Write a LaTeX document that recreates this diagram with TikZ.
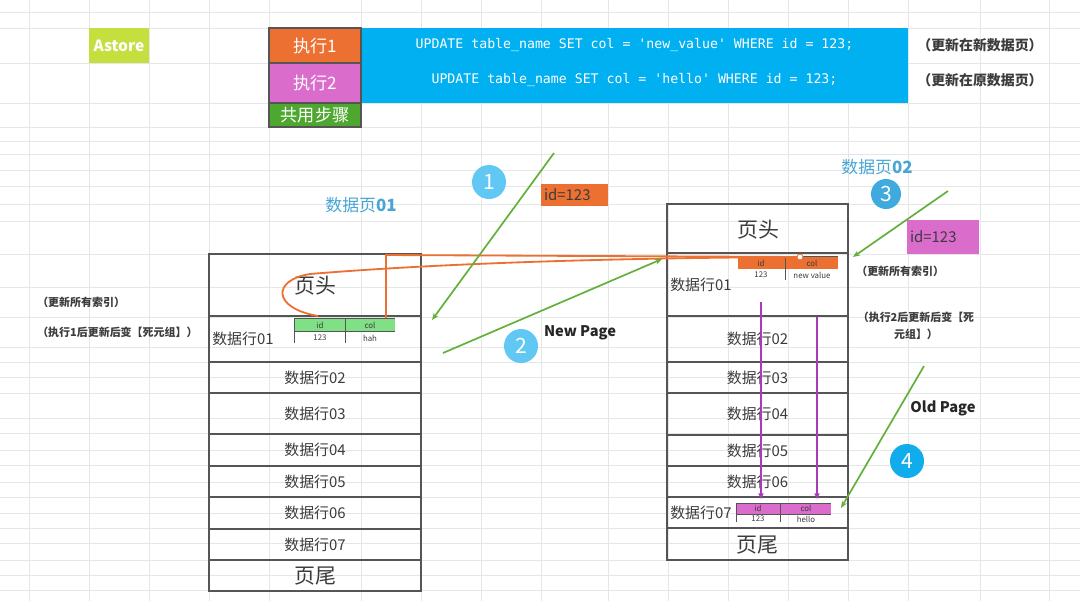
\documentclass[tikz,border=0pt]{standalone}
\usepackage{fontspec}
\setmainfont{Noto Sans CJK SC}
\setmonofont{DejaVu Sans Mono}
\usetikzlibrary{arrows.meta}

\definecolor{gridgray}{RGB}{230,230,230}
\definecolor{framegray}{RGB}{85,85,85}
\definecolor{textgray}{RGB}{60,60,60}
\definecolor{astorelime}{RGB}{196,223,62}
\definecolor{runorange}{RGB}{236,112,50}
\definecolor{runpink}{RGB}{218,108,204}
\definecolor{sharedgreen}{RGB}{78,167,46}
\definecolor{sqlblue}{RGB}{0,176,240}
\definecolor{arrowgreen}{RGB}{98,176,58}
\definecolor{pageblue}{RGB}{72,166,212}
\definecolor{rowpurple}{RGB}{168,60,184}
\definecolor{cellgreen}{RGB}{128,224,134}
\definecolor{stepone}{RGB}{96,200,242}
\definecolor{stepthree}{RGB}{62,170,222}
\definecolor{stepfour}{RGB}{16,172,236}

\tikzset{
  gridline/.style={gridgray, line width=0.7pt},
  frame/.style={draw=framegray, line width=0.9pt},
  rowtext/.style={font=\fontsize{10.6}{12}\selectfont, text=textgray, inner sep=0pt},
  headtext/.style={font=\fontsize{14.9}{16}\selectfont, text=textgray, inner sep=0pt},
  cmdcell/.style={draw=framegray, line width=0.8pt, minimum width=2.3cm, text=white,
    font=\fontsize{12.2}{14}\selectfont, inner sep=0pt},
  sqltext/.style={font=\ttfamily\fontsize{9.4}{11}\selectfont, text=white, inner sep=0pt},
  notetext/.style={font=\bfseries\fontsize{7.8}{12}\selectfont, text=textgray, inner sep=0pt},
  pagelabel/.style={font=\fontsize{12}{14}\selectfont, text=pageblue, inner sep=0pt},
  celltext/.style={font=\fontsize{5.6}{6}\selectfont, text=textgray, inner sep=0pt},
  stepcircle/.style={circle, minimum size=0.85cm, inner sep=0pt, text=white,
    font=\fontsize{15}{16}\selectfont},
  greenarrow/.style={arrowgreen, line width=1.2pt, -{Stealth[length=5pt,width=4pt]}},
  purplearrow/.style={rowpurple, line width=1.1pt, -{Triangle[length=4pt,width=3.5pt]}},
  orangeline/.style={runorange, line width=1.3pt},
  idtag/.style={font=\fontsize{10.6}{12}\selectfont, text=textgray, align=left, inner xsep=2pt}
}

\begin{document}
\begin{tikzpicture}[x=0.025cm, y=-0.025cm]
    \useasboundingbox (0,0) rectangle (1080,601);
    \fill[white] (0,0) rectangle (1080,601);

    % Spreadsheet grid
    \foreach \x in {29,89,149,209,269,361,421,481,541,608,668,728,788,848,908,980,1049}
        \draw[gridline] (\x,0) -- (\x,601);
    \foreach \y in {12,28,63,103,127,141,154,170,186,204,221,254,287,317,347,362,377,393,418,433,450,465,482,497,513,528,543,560,575,590}
        \draw[gridline] (0,\y) -- (1080,\y);

    % Command table
    \node[fill=astorelime, minimum width=1.5cm, minimum height=0.875cm, inner sep=0pt,
          text=white, font=\bfseries\fontsize{11}{12}\selectfont] (astore) at (119,45.5) {Astore};
    \node[fill=sqlblue, minimum width=13.675cm, minimum height=1.875cm, inner sep=0pt] (sqlbox) at (634.5,65.5) {};
    \node[cmdcell, fill=runorange, minimum height=0.875cm] (run1) at (315,45.5) {执行1};
    \node[cmdcell, fill=runpink, minimum height=1cm] (run2) at (315,83) {执行2};
    \node[cmdcell, fill=sharedgreen, minimum height=0.6cm] (shared) at (315,115) {共用步骤};
    \node[sqltext] (sql1) at (634.5,45) {UPDATE table\_name SET col = 'new\_value' WHERE id = 123;};
    \node[sqltext] (sql2) at (634.5,80) {UPDATE table\_name SET col = 'hello' WHERE id = 123;};
    \node[notetext, font=\bfseries\fontsize{9.9}{12}\selectfont] (note1) at (980,45) {（更新在新数据页）};
    \node[notetext, font=\bfseries\fontsize{9.9}{12}\selectfont] (note2) at (980,80) {（更新在原数据页）};

    % Page 01
    \node[pagelabel] (page1) at (361,205) {数据页\textbf{01}};
    \draw[frame] (209,254) rectangle (421,591);
    \foreach \y in {316,362,393,434,466,497,529,560}
        \draw[frame] (209,\y) -- (421,\y);
    \node[headtext] (p1head) at (315,286) {页头};
    \node[rowtext, anchor=west] (p1r01) at (212,339) {数据行01};
    \foreach \n/\y in {02/377.5,03/413.5,04/450,05/481.5,06/513,07/544.5}
        \node[rowtext] (p1r\n) at (315,\y) {数据行\n};
    \node[headtext] (p1foot) at (315,576) {页尾};

    % old tuple in page 01
    \fill[cellgreen] (294,318) rectangle (395,331);
    \draw[framegray, line width=0.6pt] (294,343) -- (294,318) -- (395,318);
    \draw[framegray, line width=0.6pt] (294,331) -- (395,331);
    \draw[framegray, line width=0.6pt] (345,318) -- (345,343);
    \node[celltext] (c1id) at (320,325) {id};
    \node[celltext] (c1col) at (370,325) {col};
    \node[celltext] (c1v1) at (320,338) {123};
    \node[celltext] (c1v2) at (370,338) {hah};

    % Page 02
    \node[pagelabel] (page2) at (877,167) {数据页\textbf{02}};
    \draw[frame] (667,204) rectangle (848,560);
    \foreach \y in {253,316,362,393,435,466,497,528}
        \draw[frame] (667,\y) -- (848,\y);
    \node[headtext] (p2head) at (758,230) {页头};
    \node[rowtext, anchor=west] (p2r01) at (670,285) {数据行01};
    \foreach \n/\y in {02/339,03/377.5,04/414,05/450.5,06/481.5}
        \node[rowtext] (p2r\n) at (757.5,\y) {数据行\n};
    \node[rowtext, anchor=west] (p2r07) at (670,513) {数据行07};
    \node[headtext] (p2foot) at (757.5,545) {页尾};

    % new tuple (run 1)
    \fill[runorange] (738,257) rectangle (838,269);
    \draw[framegray, line width=0.6pt] (765,256) -- (838,256);
    \draw[framegray, line width=0.6pt] (785,257) -- (785,280);
    \node[celltext] (c2id) at (761,263) {id};
    \node[celltext] (c2col) at (812,263) {col};
    \node[celltext] (c2v1) at (761,275) {123};
    \node[celltext] (c2v2) at (812,275) {new value};

    % updated tuple (run 2)
    \fill[runpink] (736,503) rectangle (831,514);
    \draw[framegray, line width=0.6pt] (736,522) -- (736,503) -- (831,503);
    \draw[framegray, line width=0.6pt] (736,514) -- (831,514);
    \draw[framegray, line width=0.6pt] (780,503) -- (780,522);
    \node[celltext] (c3id) at (758,508) {id};
    \node[celltext] (c3col) at (806,508) {col};
    \node[celltext] (c3v1) at (758,519) {123};
    \node[celltext] (c3v2) at (806,519) {hello};

    % Tags and notes
    \node[idtag, fill=runorange, anchor=west, text width=1.675cm-4pt, minimum height=0.5cm] (tag1) at (541,195) {id=123};
    \node[idtag, fill=runpink, anchor=west, text width=1.8cm-4pt, minimum height=0.85cm] (tag2) at (907,237) {id=123};
    \node[notetext, anchor=west] (idx1) at (37,302) {（更新所有索引）};
    \node[notetext, anchor=west] (dead1) at (37,332) {（执行1后更新后变【死元组】）};
    \node[notetext, anchor=west] (idx2) at (856,271) {（更新所有索引）};
    \node[notetext, align=center, text width=3.1cm] (dead2) at (916,326) {（执行2后更新后变【死\\元组】）};
    \node[font=\bfseries\fontsize{10.4}{12}\selectfont, text=black!85, inner sep=0pt] (newpage) at (580,333) {New Page};
    \node[font=\bfseries\fontsize{10.4}{12}\selectfont, text=black!85, inner sep=0pt] (oldpage) at (943,408) {Old Page};

    % Step markers
    \node[stepcircle, fill=stepone] (s1) at (489,182) {1};
    \node[stepcircle, fill=stepone] (s2) at (521,346) {2};
    \node[stepcircle, fill=stepthree, minimum size=0.75cm] (s3) at (886,194) {3};
    \node[stepcircle, fill=stepfour] (s4) at (907,461) {4};

    % Orange links from the old tuple to the new one
    \coordinate (linkend) at (800,257);
    \draw[orangeline] (386,318) -- (386,255) -- (linkend);
    \draw[orangeline] (318,316) .. controls (272,308) and (272,280) .. (310,274)
        .. controls (430,264) and (600,258) .. (linkend);
    \draw[runorange, fill=white, line width=0.6pt] (linkend) circle (3);

    % Green arrows
    \coordinate (g1s) at (554,153);
    \coordinate (g1e) at (432,320);
    \coordinate (g2s) at (443,353);
    \coordinate (g2e) at (662,259);
    \coordinate (g3s) at (948,191);
    \coordinate (g3e) at (853,257);
    \coordinate (g4s) at (924,366);
    \coordinate (g4e) at (841,508);
    \draw[greenarrow] (g1s) -- (g1e);
    \draw[greenarrow] (g2s) -- (g2e);
    \draw[greenarrow] (g3s) -- (g3e);
    \draw[greenarrow] (g4s) -- (g4e);

    % Purple arrows down to row 07
    \coordinate (v1s) at (761,302);
    \coordinate (v1e) at (761,499);
    \coordinate (v2s) at (817,317);
    \coordinate (v2e) at (817,499);
    \draw[purplearrow] (v1s) -- (v1e);
    \draw[purplearrow] (v2s) -- (v2e);
\end{tikzpicture}
\end{document}
